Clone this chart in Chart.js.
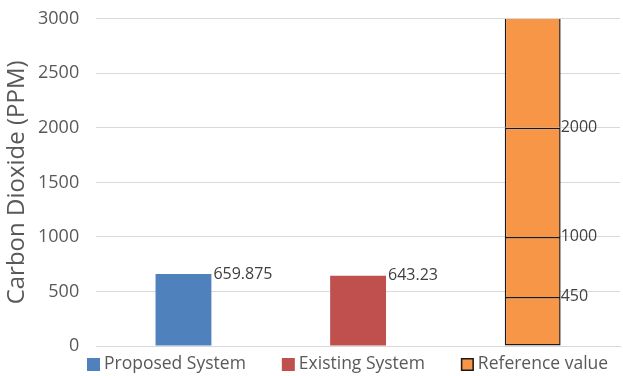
<!DOCTYPE html>
<html>
<head>
<meta charset="utf-8">
<script src="https://cdn.jsdelivr.net/npm/chart.js@4"></script>
<style>
    html, body { margin: 0; padding: 0; background: #fff; }
    #wrap { width: 623px; height: 376px; position: relative; }
</style>
</head>
<body>
<div id="wrap"><canvas id="co2Chart"></canvas></div>
<script>
// Chart data
const categories = ['Proposed System', 'Existing System', 'Reference value'];
const proposedValue = 659.875;
const existingValue = 643.23;
// reference bands drawn as floating segments [from, to]
const referenceBands = [[0, 450], [450, 1000], [1000, 2000], [2000, 3000]];
const referenceLabels = ['450', '1000', '2000'];
const yTicks = [0, 500, 1000, 1500, 2000, 2500, 3000];

const textColor = '#595959';
const fontFamily = '"Open Sans", sans-serif';

// Value labels next to the bars
const barLabels = {
    id: 'barLabels',
    afterDatasetsDraw(chart) {
        const ctx = chart.ctx;
        ctx.save();
        ctx.font = '16px ' + fontFamily;
        ctx.fillStyle = '#404040';
        ctx.textBaseline = 'middle';
        ctx.textAlign = 'left';
        [0, 1].forEach(i => {
            const bar = chart.getDatasetMeta(i).data[i];
            const val = chart.data.datasets[i].data[i];
            ctx.fillText(String(val), bar.x + bar.width / 2 + 2, bar.y);
        });
        referenceLabels.forEach((txt, k) => {
            const bar = chart.getDatasetMeta(2 + k).data[2];
            ctx.fillText(txt, bar.x + bar.width / 2, bar.y);
        });
        ctx.restore();
    }
};

// Legend drawn under the plot, Excel style
const bottomLegend = {
    id: 'bottomLegend',
    afterDraw(chart) {
        const ctx = chart.ctx;
        const items = chart.data.datasets.slice(0, 3);
        ctx.save();
        ctx.font = '17.5px ' + fontFamily;
        ctx.textBaseline = 'middle';
        ctx.textAlign = 'left';
        let x = 87;
        const y = 364;
        items.forEach(ds => {
            ctx.fillStyle = ds.backgroundColor;
            ctx.fillRect(x, y - 6, 13, 13);
            if (ds.borderColor && ds.borderWidth) {
                ctx.strokeStyle = ds.borderColor;
                ctx.lineWidth = 1.5;
                ctx.strokeRect(x + 0.75, y - 5.25, 11.5, 11.5);
            }
            x += 17;
            ctx.fillStyle = textColor;
            ctx.fillText(ds.label, x, y);
            x += ctx.measureText(ds.label).width + 36;
        });
        ctx.restore();
    }
};

const datasets = [
    {
        label: 'Proposed System',
        data: [proposedValue, null, null],
        backgroundColor: '#4f81bd',
        borderWidth: 0
    },
    {
        label: 'Existing System',
        data: [null, existingValue, null],
        backgroundColor: '#c0504d',
        borderWidth: 0
    }
];
referenceBands.forEach((band, k) => {
    const last = k === referenceBands.length - 1;
    datasets.push({
        label: 'Reference value',
        data: [null, null, band],
        backgroundColor: '#f79646',
        borderColor: '#1a1a1a',
        borderWidth: { left: 1.5, right: 1.5, top: last ? 0 : 1.5, bottom: k === 0 ? 1.5 : 0 },
        borderSkipped: false
    });
});
datasets.forEach(ds => {
    ds.grouped = false;
    ds.barPercentage = 0.32;
    ds.categoryPercentage = 1.0;
});

const ctx = document.getElementById('co2Chart').getContext('2d');
new Chart(ctx, {
    type: 'bar',
    data: {
        labels: categories,
        datasets: datasets
    },
    options: {
        responsive: true,
        maintainAspectRatio: false,
        animation: false,
        layout: { padding: { top: 0, right: 3, left: 5, bottom: 22 } },
        scales: {
            x: {
                grid: { display: false },
                border: { display: true, color: '#d9d9d9' },
                ticks: { display: false }
            },
            y: {
                min: 0,
                max: 3000,
                afterBuildTicks: axis => { axis.ticks = yTicks.map(v => ({ value: v })); },
                grid: { color: '#d9d9d9', drawTicks: false },
                border: { display: false },
                ticks: {
                    color: textColor,
                    padding: 17,
                    callback: v => String(v),
                    font: { family: fontFamily, size: 18, lineHeight: 0.2 }
                },
                title: {
                    display: true,
                    text: 'Carbon Dioxide (PPM)',
                    color: textColor,
                    padding: { top: 0, bottom: -8 },
                    font: { family: fontFamily, size: 24, lineHeight: 1 }
                }
            }
        },
        plugins: {
            legend: { display: false },
            tooltip: { enabled: false }
        }
    },
    plugins: [barLabels, bottomLegend]
});
</script>
</body>
</html>
